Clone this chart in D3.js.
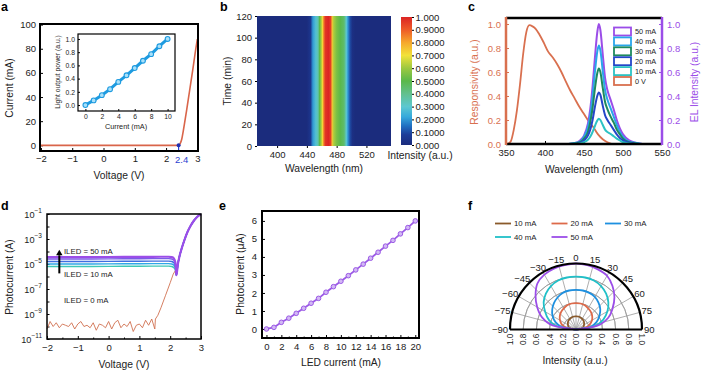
<!DOCTYPE html>
<html>
<head>
<meta charset="utf-8">
<script src="https://cdn.jsdelivr.net/npm/d3@7"></script>
<style>
  body { margin: 0; background: #fff; }
  svg { font-family: "Liberation Sans", Arial, sans-serif; }
  text { fill: #222; }
</style>
</head>
<body>
<script>
// ---- data ----
// a: I-V of the LED, inset light output power
var ivV = [-2, 2.4, 2.45, 2.5, 2.55, 2.65, 2.75, 2.85, 2.95, 3.0];
var ivI = [0, 0, 1.5, 5, 12, 28, 45, 62, 80, 88];
var loI = [0, 1, 2, 3, 4, 5, 6, 7, 8, 9, 10];
var loP = [0.0, 0.07, 0.15, 0.24, 0.35, 0.45, 0.56, 0.67, 0.77, 0.89, 1.0];

// b: EL map (same spectrum at every time)
var bWl = [440, 445, 448, 452, 455, 457, 459, 461, 463, 465, 469, 472, 474, 476, 480, 485, 490, 493, 495, 498, 501, 505];
var bInt = [0, 0.05, 0.2, 0.28, 0.35, 0.5, 0.6, 0.72, 0.88, 0.97, 1.0, 0.95, 0.75, 0.62, 0.55, 0.5, 0.45, 0.3, 0.2, 0.1, 0.02, 0];
var cbLabels = ["1.000", "0.9000", "0.8000", "0.7000", "0.6000", "0.5000", "0.4000", "0.3000", "0.2000", "0.1000", "0.000"];
var cmapPos = [0, 0.08, 0.15, 0.22, 0.3, 0.4, 0.5, 0.6, 0.7, 0.8, 0.9, 1.0];
var cmapCol = ["#1b2c7d", "#1d3c98", "#2070c2", "#36a9dc", "#5cc8d0", "#62c08e", "#5ab84a", "#9cc840", "#f2e23a", "#f6a82c", "#ee5c28", "#dc2424"];

// c: responsivity and EL spectra
var respWl = [352, 356, 360, 364, 368, 372, 376, 380, 384, 388, 393, 398, 404, 410, 416, 421, 426, 432, 438, 444, 450, 456, 462, 468, 474, 480, 486];
var resp = [0, 0.02, 0.12, 0.28, 0.5, 0.75, 0.93, 0.99, 0.98, 0.96, 0.91, 0.85, 0.77, 0.72, 0.66, 0.6, 0.53, 0.45, 0.38, 0.31, 0.25, 0.19, 0.14, 0.08, 0.04, 0.015, 0];
var elWl = [430, 440, 445, 450, 455, 458, 461, 464, 467, 469, 471, 474, 477, 480, 484, 488, 492, 496, 500, 508, 516, 525, 535];
var el50 = [0, 0.01, 0.03, 0.07, 0.17, 0.29, 0.48, 0.72, 0.93, 1.0, 0.95, 0.75, 0.55, 0.45, 0.37, 0.29, 0.2, 0.13, 0.08, 0.03, 0.01, 0, 0];
var el40 = [0, 0.01, 0.02, 0.06, 0.14, 0.24, 0.4, 0.6, 0.77, 0.82, 0.78, 0.61, 0.45, 0.37, 0.3, 0.23, 0.16, 0.1, 0.06, 0.02, 0.01, 0, 0];
var el30 = [0, 0.005, 0.015, 0.045, 0.1, 0.18, 0.3, 0.46, 0.59, 0.63, 0.6, 0.47, 0.35, 0.29, 0.23, 0.18, 0.12, 0.08, 0.045, 0.015, 0.005, 0, 0];
var el20 = [0, 0, 0.01, 0.03, 0.07, 0.12, 0.2, 0.31, 0.4, 0.43, 0.41, 0.32, 0.24, 0.2, 0.16, 0.12, 0.08, 0.05, 0.03, 0.01, 0, 0, 0];
var el10 = [0, 0, 0.005, 0.015, 0.035, 0.06, 0.1, 0.15, 0.195, 0.21, 0.2, 0.16, 0.12, 0.1, 0.085, 0.065, 0.045, 0.03, 0.015, 0.005, 0, 0, 0];
var cNames = ["50 mA", "40 mA", "30 mA", "20 mA", "10 mA", "0 V"];
var cColors = ["#9b4de8", "#2aa6ea", "#1e8a5e", "#2446c8", "#2cc2c4", "#d9704f"];

// d: photocurrent vs voltage (log10 of current in A)
var dkV = [-2.0, -1.9, -1.8, -1.7, -1.6, -1.5, -1.4, -1.3, -1.2, -1.1, -1.0, -0.9, -0.8, -0.7, -0.6, -0.5, -0.4, -0.3, -0.2, -0.1, 0.0, 0.1, 0.2, 0.3, 0.4, 0.5, 0.6, 0.7, 0.8, 0.9, 1.0, 1.1, 1.2, 1.3, 1.4, 1.5, 1.52, 1.6, 1.7, 1.85, 2.0, 2.1, 2.2];
var dkLog = [-10.2, -9.6, -10.0, -9.7, -10.1, -9.8, -9.9, -10.0, -9.7, -10.2, -9.8, -9.6, -10.0, -9.9, -10.1, -9.7, -10.3, -9.8, -9.9, -10.1, -9.6, -10.2, -9.7, -9.5, -10.1, -9.8, -10.0, -9.6, -10.4, -9.9, -9.8, -10.1, -9.5, -9.9, -9.4, -10.2, -9.4, -9.1, -8.5, -7.5, -6.5, -5.8, -5.4];
var ledV = [-2, -1, 0, 1, 1.7, 1.95, 2.05, 2.12, 2.17, 2.2];
var led50 = [-4.45, -4.45, -4.44, -4.43, -4.42, -4.42, -4.45, -4.55, -4.9, -5.9];
var led40 = [-4.6, -4.6, -4.59, -4.58, -4.57, -4.57, -4.6, -4.7, -5.0, -5.9];
var led30 = [-4.8, -4.8, -4.79, -4.78, -4.77, -4.77, -4.8, -4.9, -5.2, -5.9];
var led20 = [-5.0, -5.0, -4.99, -4.98, -4.97, -4.97, -5.0, -5.1, -5.35, -5.9];
var led10 = [-5.2, -5.2, -5.19, -5.18, -5.17, -5.17, -5.2, -5.3, -5.5, -5.9];
var riseV = [2.2, 2.25, 2.3, 2.38, 2.46, 2.55, 2.65, 2.75, 2.85, 2.93, 3.0];
var riseLog = [-5.9, -5.0, -4.4, -3.7, -3.1, -2.5, -2.0, -1.6, -1.3, -1.12, -1.03];
var dColors = ["#9b4de8", "#7a5ce6", "#3f6ee0", "#30a8e6", "#3ec8b6"];

// e: photocurrent vs LED current
var eI = [0, 1, 2, 3, 4, 5, 6, 7, 8, 9, 10, 11, 12, 13, 14, 15, 16, 17, 18, 19, 20];
var eP = [0, 0.09, 0.37, 0.6, 0.87, 1.15, 1.43, 1.7, 2.04, 2.35, 2.65, 2.96, 3.28, 3.6, 3.93, 4.26, 4.6, 4.92, 5.28, 5.63, 6.0];

// f: angular emission profiles
var fAng = [-90, -80, -70, -60, -50, -40, -30, -20, -10, 0, 10, 20, 30, 40, 50, 60, 70, 80, 90];
var f50 = [0, 0.36, 0.55, 0.68, 0.8, 0.91, 0.96, 0.98, 0.99, 1.0, 0.99, 0.97, 0.94, 0.86, 0.76, 0.64, 0.52, 0.33, 0];
var f40 = [0, 0.3, 0.44, 0.54, 0.64, 0.71, 0.76, 0.79, 0.8, 0.8, 0.8, 0.79, 0.76, 0.71, 0.64, 0.55, 0.44, 0.29, 0];
var f30 = [0, 0.22, 0.33, 0.41, 0.47, 0.52, 0.56, 0.59, 0.6, 0.6, 0.6, 0.59, 0.57, 0.53, 0.48, 0.41, 0.33, 0.22, 0];
var f20 = [0, 0.15, 0.23, 0.28, 0.32, 0.35, 0.37, 0.39, 0.4, 0.4, 0.4, 0.39, 0.37, 0.35, 0.32, 0.28, 0.22, 0.14, 0];
var f10 = [0, 0.08, 0.12, 0.14, 0.16, 0.175, 0.185, 0.195, 0.2, 0.2, 0.2, 0.195, 0.185, 0.175, 0.16, 0.14, 0.12, 0.08, 0];
var fNames = ["10 mA", "20 mA", "30 mA", "40 mA", "50 mA"];
var fColors = ["#8a5a2a", "#dd6a4a", "#1e90e0", "#20c0c8", "#9b4de8"];
var fRadLabels = ["1.0", "0.8", "0.6", "0.4", "0.2", "0.0", "0.2", "0.4", "0.6", "0.8", "1.0"];

// ---- drawing ----
var FS = 9.5, TS = 10.3;
var svg = d3.select("body").append("svg").attr("width", 701).attr("height", 371);
svg.append("rect").attr("width", 701).attr("height", 371).attr("fill", "#fff");
var defs = svg.append("defs");

function zip(a, b) { return a.map(function(v, i) { return [v, b[i]]; }); }
function letter(t, x, y) {
  svg.append("text").attr("x", x).attr("y", y).attr("font-size", 12.5).attr("font-weight", "bold").style("fill", "#000").text(t);
}
function frame(g, x0, y0, x1, y1, w) {
  g.append("rect").attr("x", x0).attr("y", y0).attr("width", x1 - x0).attr("height", y1 - y0)
    .attr("fill", "none").attr("stroke", "#000").attr("stroke-width", w);
}
function styleAxis(sel, fs) {
  sel.select(".domain").remove();
  sel.selectAll("text").attr("font-size", fs).style("fill", "#222").attr("font-family", null);
  sel.selectAll("line").attr("stroke", "#000");
}
function ytitle(t, x, y, col) {
  svg.append("text").attr("transform", "translate(" + x + "," + y + ") rotate(-90)")
    .attr("text-anchor", "middle").attr("dominant-baseline", "central").attr("font-size", TS)
    .style("fill", col || "#222").text(t);
}
function xtitle(t, x, y, fs) {
  svg.append("text").attr("x", x).attr("y", y).attr("text-anchor", "middle").attr("dominant-baseline", "central")
    .attr("font-size", fs || TS).text(t);
}
var minus = function(s) { return String(s).replace("-", "\u2212"); };

// ===== panel a =====
(function() {
  var g = svg.append("g");
  var x = d3.scaleLinear().domain([-2.03, 3.02]).range([40, 198]);
  var y = d3.scaleLinear().domain([-4.7, 100.5]).range([151, 24]);
  g.append("g").attr("transform", "translate(0,151)")
    .call(d3.axisBottom(x).tickValues([-2, -1, 0, 1, 2, 3]).tickSize(-3).tickPadding(4).tickFormat(minus))
    .call(styleAxis, FS);
  g.append("g").attr("transform", "translate(40,0)")
    .call(d3.axisLeft(y).tickValues([0, 20, 40, 60, 80, 100]).tickSize(-3).tickPadding(4))
    .call(styleAxis, FS);
  g.append("text").attr("x", x(2.4) + 3).attr("y", 151 + 11.5).attr("text-anchor", "middle")
    .attr("font-size", FS).style("fill", "#2a3fd0").text("2.4");
  g.append("path").datum(zip(ivV, ivI)).attr("fill", "none").attr("stroke", "#d9654a").attr("stroke-width", 1.6)
    .attr("d", d3.line().x(function(d) { return x(d[0]); }).y(function(d) { return y(d[1]); }).curve(d3.curveMonotoneX));
  g.append("line").attr("x1", x(2.4)).attr("x2", x(2.4)).attr("y1", y(0)).attr("y2", 150)
    .attr("stroke", "#2a3fd0").attr("stroke-width", 1.2);
  g.append("circle").attr("cx", x(2.4)).attr("cy", y(0)).attr("r", 2).attr("fill", "#2030b0");
  frame(g, 40, 24, 198, 151, 2);
  ytitle("Current (mA)", 9, 88);
  xtitle("Voltage (V)", 119, 175);

  // inset
  var xi = d3.scaleLinear().domain([-0.9, 10.9]).range([78, 175]);
  var yi = d3.scaleLinear().domain([-0.09, 1.075]).range([111, 34]);
  g.append("rect").attr("x", 78).attr("y", 34).attr("width", 97).attr("height", 77).attr("fill", "#fff");
  g.append("g").attr("transform", "translate(0,111)")
    .call(d3.axisBottom(xi).tickValues([0, 2, 4, 6, 8, 10]).tickSize(-2).tickPadding(3))
    .call(styleAxis, 6.8);
  g.append("g").attr("transform", "translate(78,0)")
    .call(d3.axisLeft(yi).tickValues([0, 0.2, 0.4, 0.6, 0.8, 1.0]).tickSize(-2).tickPadding(3).tickFormat(d3.format(".1f")))
    .call(styleAxis, 6.8);
  g.append("path").datum(zip(loI, loP)).attr("fill", "none").attr("stroke", "#1e9be0").attr("stroke-width", 3)
    .attr("d", d3.line().x(function(d) { return xi(d[0]); }).y(function(d) { return yi(d[1]); }));
  g.selectAll(".lo").data(zip(loI, loP)).enter().append("circle")
    .attr("cx", function(d) { return xi(d[0]); }).attr("cy", function(d) { return yi(d[1]); })
    .attr("r", 2.4).attr("fill", "#a8e0fa").attr("stroke", "#1e9be0").attr("stroke-width", 1.1);
  frame(g, 78, 34, 175, 111, 1.2);
  xtitle("Current (mA)", 126, 126.5, 7.3);
  svg.append("text").attr("transform", "translate(57,72) rotate(-90)").attr("text-anchor", "middle")
    .attr("dominant-baseline", "central").attr("font-size", 6.8).text("Light output power (a.u.)");
})();

// ===== panel b =====
(function() {
  var g = svg.append("g");
  var x = d3.scaleLinear().domain([373, 553]).range([257, 391]);
  var y = d3.scaleLinear().domain([0, 120]).range([146, 16]);
  var cmap = d3.scaleLinear().domain(cmapPos).range(cmapCol).interpolate(d3.interpolateRgb);
  var gr = defs.append("linearGradient").attr("id", "heat").attr("gradientUnits", "userSpaceOnUse")
    .attr("x1", x(373)).attr("x2", x(553)).attr("y1", 0).attr("y2", 0);
  gr.selectAll("stop").data(zip(bWl, bInt)).enter().append("stop")
    .attr("offset", function(d) { return (x(d[0]) - x(373)) / (x(553) - x(373)); })
    .attr("stop-color", function(d) { return cmap(d[1]); });
  g.append("rect").attr("x", 257).attr("y", 16).attr("width", 134).attr("height", 130).attr("fill", "url(#heat)");
  g.append("g").attr("transform", "translate(0,146)")
    .call(d3.axisBottom(x).tickValues([400, 440, 480, 520]).tickSize(2).tickPadding(3))
    .call(styleAxis, FS);
  g.append("g").attr("transform", "translate(257,0)")
    .call(d3.axisLeft(y).tickValues([0, 20, 40, 60, 80, 100, 120]).tickSize(2).tickPadding(3))
    .call(styleAxis, FS);
  ytitle("Time (min)", 227, 81);
  xtitle("Wavelength (nm)", 324, 168);

  // colour bar
  var cg = defs.append("linearGradient").attr("id", "cbar").attr("x1", 0).attr("x2", 0).attr("y1", 1).attr("y2", 0);
  cg.selectAll("stop").data(cmapPos).enter().append("stop")
    .attr("offset", function(d) { return d; }).attr("stop-color", function(d, i) { return cmapCol[i]; });
  g.append("rect").attr("x", 401).attr("y", 17).attr("width", 11).attr("height", 128).attr("fill", "url(#cbar)");
  var yc = d3.scaleLinear().domain([0, 10]).range([145, 17]);
  g.append("g").attr("transform", "translate(412,0)")
    .call(d3.axisRight(yc).tickValues(d3.range(11)).tickSize(2).tickPadding(1.5)
      .tickFormat(function(d) { return cbLabels[10 - d]; }))
    .call(styleAxis, FS);
  xtitle("Intensity (a.u.)", 420, 155);
})();

// ===== panel c =====
(function() {
  var g = svg.append("g");
  var x = d3.scaleLinear().domain([350, 550]).range([506, 662]);
  var y = d3.scaleLinear().domain([0, 1.05]).range([144, 18]);
  var ln = d3.line().x(function(d) { return x(d[0]); }).y(function(d) { return y(d[1]); }).curve(d3.curveMonotoneX);
  g.append("g").attr("transform", "translate(0,144)")
    .call(d3.axisBottom(x).tickValues([350, 400, 450, 500, 550]).tickSize(-3).tickPadding(5))
    .call(styleAxis, FS);
  var la = g.append("g").attr("transform", "translate(506,0)")
    .call(d3.axisLeft(y).tickValues([0, 0.2, 0.4, 0.6, 0.8, 1.0]).tickSize(-3).tickPadding(5).tickFormat(d3.format(".1f")))
    .call(styleAxis, FS);
  la.selectAll("text").style("fill", "#d9704f");
  la.selectAll("line").attr("stroke", "#d9704f");
  var ra = g.append("g").attr("transform", "translate(662,0)")
    .call(d3.axisRight(y).tickValues([0, 0.2, 0.4, 0.6, 0.8, 1.0]).tickSize(-3).tickPadding(5).tickFormat(d3.format(".1f")))
    .call(styleAxis, FS);
  ra.selectAll("text").style("fill", "#9b4de8");
  ra.selectAll("line").attr("stroke", "#9b4de8");

  g.append("path").datum(zip(respWl, resp)).attr("fill", "none").attr("stroke", cColors[5]).attr("stroke-width", 1.8).attr("d", ln);
  [el50, el40, el30, el20, el10].forEach(function(s, i) {
    g.append("path").datum(zip(elWl, s)).attr("fill", "none").attr("stroke", cColors[i]).attr("stroke-width", 2).attr("d", ln);
  });
  g.append("line").attr("x1", 506).attr("x2", 662).attr("y1", 18).attr("y2", 18).attr("stroke", "#000").attr("stroke-width", 2.5);
  g.append("line").attr("x1", 506).attr("x2", 662).attr("y1", 144).attr("y2", 144).attr("stroke", "#000").attr("stroke-width", 2.5);
  g.append("line").attr("x1", 506).attr("x2", 506).attr("y1", 17).attr("y2", 145).attr("stroke", "#d9704f").attr("stroke-width", 2.5);
  g.append("line").attr("x1", 662).attr("x2", 662).attr("y1", 17).attr("y2", 145).attr("stroke", "#9b4de8").attr("stroke-width", 2.5);

  var lg = g.selectAll(".lg").data(cNames).enter().append("g")
    .attr("transform", function(d, i) { return "translate(614," + (27.5 + i * 9.9) + ")"; });
  lg.append("rect").attr("width", 17).attr("height", 8).attr("fill", "#fff")
    .attr("stroke", function(d, i) { return cColors[i]; }).attr("stroke-width", 1.8);
  lg.append("text").attr("x", 21).attr("y", 4).attr("dominant-baseline", "central").attr("font-size", 7.3).text(function(d) { return d; });

  ytitle("Responsivity (a.u.)", 474, 82, "#d9704f");
  ytitle("EL Intensity (a.u.)", 694, 82, "#9b4de8");
  xtitle("Wavelength (nm)", 584, 169);
})();

// ===== panel d =====
(function() {
  var g = svg.append("g");
  var x = d3.scaleLinear().domain([-2, 3]).range([47, 201]);
  var y = d3.scaleLinear().domain([-11, -1]).range([339, 214]);
  var ln = d3.line().x(function(d) { return x(d[0]); }).y(function(d) { return y(d[1]); });
  g.append("g").attr("transform", "translate(0,339)")
    .call(d3.axisBottom(x).tickValues([-2, -1, 0, 1, 2, 3]).tickSize(-3).tickPadding(5).tickFormat(minus))
    .call(styleAxis, FS);
  g.append("g").attr("transform", "translate(0,339)")
    .call(d3.axisBottom(x).tickValues([-1.5, -0.5, 0.5, 1.5, 2.5]).tickSize(-1.5).tickFormat(""))
    .call(styleAxis, FS);
  g.append("g").attr("transform", "translate(47,0)")
    .call(d3.axisLeft(y).tickValues(d3.range(-11, 0)).tickSize(-2.5).tickFormat(""))
    .call(styleAxis, FS);
  [-11, -9, -7, -5, -3, -1].forEach(function(e) {
    var t = g.append("text").attr("x", 42).attr("y", y(e) + 3.8).attr("text-anchor", "end").attr("font-size", 9.2);
    t.append("tspan").text("10");
    t.append("tspan").attr("dy", -4.5).attr("font-size", 6.5).text(minus(e));
  });
  g.append("path").datum(zip(dkV, dkLog)).attr("fill", "none").attr("stroke", "#d07050").attr("stroke-width", 0.9).attr("d", ln);
  [led10, led20, led30, led40, led50].forEach(function(s, k) {
    var i = 4 - k;
    var pts = zip(ledV, s).concat(zip(riseV, riseLog).slice(1));
    g.append("path").datum(pts).attr("fill", "none").attr("stroke", dColors[i]).attr("stroke-width", i === 0 ? 2.2 : 1.4)
      .attr("d", ln.curve(d3.curveMonotoneX));
  });
  frame(g, 47, 214, 201, 339, 1.5);
  // arrow
  defs.append("marker").attr("id", "ah").attr("viewBox", "0 0 10 10").attr("refX", 5).attr("refY", 3)
    .attr("markerWidth", 3).attr("markerHeight", 3).attr("orient", "auto-start-reverse")
    .append("path").attr("d", "M0,10 L5,0 L10,10 Z").attr("fill", "#000");
  g.append("line").attr("x1", x(-1.6)).attr("x2", x(-1.6)).attr("y1", y(-5.75)).attr("y2", y(-4.3))
    .attr("stroke", "#000").attr("stroke-width", 2).attr("marker-end", "url(#ahu)");
  g.append("path").attr("d", "M" + (x(-1.6) - 3.2) + "," + y(-4.3) + " L" + x(-1.6) + "," + (y(-4.3) - 5.5) + " L" + (x(-1.6) + 3.2) + "," + y(-4.3) + " Z")
    .attr("fill", "#000");
  [["ILED = 50 mA", -4.0], ["ILED = 10 mA", -5.8], ["ILED = 0 mA", -7.9]].forEach(function(l) {
    g.append("text").attr("x", x(-1.45)).attr("y", y(l[1])).attr("dominant-baseline", "central")
      .attr("font-size", 7.8).text(l[0]);
  });
  ytitle("Photocurrent (A)", 9, 277);
  xtitle("Voltage (V)", 124, 364);
})();

// ===== panel e =====
(function() {
  var g = svg.append("g");
  var x = d3.scaleLinear().domain([-0.6, 20.5]).range([262, 419]);
  var y = d3.scaleLinear().domain([-0.5, 6.55]).range([338, 211]);
  g.append("g").attr("transform", "translate(0,338)")
    .call(d3.axisBottom(x).tickValues(d3.range(0, 21, 2)).tickSize(-3).tickPadding(5).tickFormat(d3.format("d")))
    .call(styleAxis, FS);
  g.append("g").attr("transform", "translate(0,338)")
    .call(d3.axisBottom(x).tickValues(d3.range(1, 20, 2)).tickSize(-1.5).tickFormat(""))
    .call(styleAxis, FS);
  g.append("g").attr("transform", "translate(262,0)")
    .call(d3.axisLeft(y).tickValues(d3.range(0, 7)).tickSize(-3).tickPadding(5).tickFormat(d3.format("d")))
    .call(styleAxis, FS);
  g.append("path").datum(zip(eI, eP)).attr("fill", "none").attr("stroke", "#9b59e6").attr("stroke-width", 1.8)
    .attr("d", d3.line().x(function(d) { return x(d[0]); }).y(function(d) { return y(d[1]); }));
  g.selectAll(".pe").data(zip(eI, eP)).enter().append("circle")
    .attr("cx", function(d) { return x(d[0]); }).attr("cy", function(d) { return y(d[1]); })
    .attr("r", 2.3).attr("fill", "#d2b8f4").attr("stroke", "#9b59e6").attr("stroke-width", 1);
  frame(g, 262, 211, 419, 338, 2);
  ytitle("Photocurrent (\u03bcA)", 240, 274);
  xtitle("LED current (mA)", 341, 362);
})();

// ===== panel f =====
(function() {
  var g = svg.append("g");
  var cx = 576, cy = 329.5, R = 66;
  var r = d3.scaleLinear().domain([0, 1]).range([0, R]);
  var fg = g.append("g").attr("transform", "translate(" + cx + "," + cy + ")");
  var rad = function(a) { return a * Math.PI / 180; };
  [0.2, 0.4, 0.6, 0.8].forEach(function(v) {
    fg.append("path").attr("fill", "none").attr("stroke", "#999").attr("stroke-width", 0.8)
      .attr("d", d3.arc()({ innerRadius: r(v), outerRadius: r(v), startAngle: -Math.PI / 2, endAngle: Math.PI / 2 }));
  });
  d3.range(-75, 90, 15).forEach(function(a) {
    fg.append("line").attr("x1", 0).attr("y1", 0).attr("x2", R * Math.sin(rad(a))).attr("y2", -R * Math.cos(rad(a)))
      .attr("stroke", "#999").attr("stroke-width", 0.8);
  });
  var lr = d3.lineRadial().angle(function(d) { return rad(d[0]); }).radius(function(d) { return r(d[1]); }).curve(d3.curveCardinal);
  [f10, f20, f30, f40, f50].forEach(function(s, i) {
    fg.append("path").datum(zip(fAng, s)).attr("fill", "none").attr("stroke", fColors[i]).attr("stroke-width", 1.8).attr("d", lr);
  });
  fg.append("path").attr("fill", "none").attr("stroke", "#000").attr("stroke-width", 2.2)
    .attr("d", d3.arc()({ innerRadius: R, outerRadius: R, startAngle: -Math.PI / 2, endAngle: Math.PI / 2 }));
  fg.append("line").attr("x1", -R).attr("x2", R).attr("y1", 0).attr("y2", 0).attr("stroke", "#000").attr("stroke-width", 2.2);
  // angle labels
  d3.range(-90, 91, 15).forEach(function(a) {
    var t = fg.append("text").attr("font-size", FS).attr("dominant-baseline", "central").text(minus(a));
    var w = t.node().getComputedTextLength(), h = 8;
    var s = Math.sin(rad(a)), c = Math.cos(rad(a));
    var px = (R + 2) * s + s * w / 2, py = -(R + 2) * c - c * h / 2;
    t.attr("x", px).attr("y", py).attr("text-anchor", "middle");
  });
  // radial labels
  var rv = [-1, -0.8, -0.6, -0.4, -0.2, 0, 0.2, 0.4, 0.6, 0.8, 1];
  rv.forEach(function(v, i) {
    var px = v * R;
    var t = fg.append("text").attr("font-size", 8.3).attr("dominant-baseline", "central").text(fRadLabels[i]);
    if (v < 0) t.attr("text-anchor", "end").attr("transform", "translate(" + px + ",4) rotate(-90)");
    else t.attr("text-anchor", "start").attr("transform", "translate(" + px + ",4) rotate(90)");
  });
  xtitle("Intensity (a.u.)", 575, 360);
  // legend
  var lx = [495, 551.5, 605, 495, 551.5], ly = [223.5, 223.5, 223.5, 237, 237];
  fNames.forEach(function(n, i) {
    g.append("line").attr("x1", lx[i]).attr("x2", lx[i] + 16).attr("y1", ly[i]).attr("y2", ly[i])
      .attr("stroke", fColors[i]).attr("stroke-width", 1.8);
    g.append("text").attr("x", lx[i] + 19).attr("y", ly[i]).attr("dominant-baseline", "central").attr("font-size", 7.8).text(n);
  });
})();

letter("a", 1, 11);
letter("b", 220, 11);
letter("c", 468, 11);
letter("d", 1, 210);
letter("e", 219, 210);
letter("f", 468, 210);
</script>
</body>
</html>
